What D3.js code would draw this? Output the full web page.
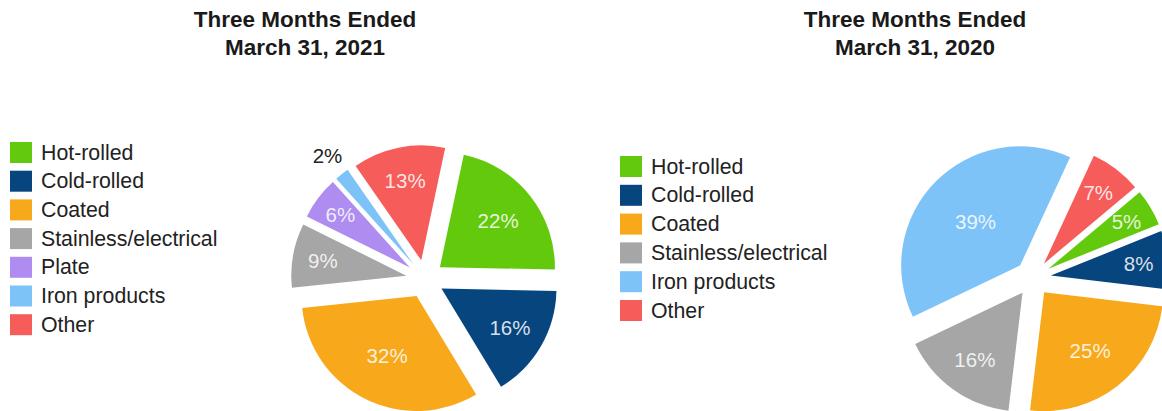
<!DOCTYPE html>
<html>
<head>
<meta charset="utf-8">
<script src="https://cdn.jsdelivr.net/npm/d3@7"></script>
<style>
  html, body { margin: 0; padding: 0; background: #fff; }
  svg { display: block; font-family: "Liberation Sans", Arial, sans-serif; }
</style>
</head>
<body>
<svg id="chart" width="1162" height="411"></svg>
<script>
// ---- Data ----
const titles2021 = ["Three Months Ended", "March 31, 2021"];
const titles2020 = ["Three Months Ended", "March 31, 2020"];
const categories2021 = ["Hot-rolled", "Cold-rolled", "Coated", "Stainless/electrical", "Plate", "Iron products", "Other"];
const values2021 = [22, 16, 32, 9, 6, 2, 13];
const categories2020 = ["Hot-rolled", "Cold-rolled", "Coated", "Stainless/electrical", "Iron products", "Other"];
const values2020 = [5, 8, 25, 16, 39, 7];
const allCategories = ["Hot-rolled", "Cold-rolled", "Coated", "Stainless/electrical", "Plate", "Iron products", "Other"];
const palette = ["#63c90c", "#07457f", "#f7a81b", "#a6a6a6", "#ae8cf0", "#7dc3f7", "#f55c5a"];

const color = d3.scaleOrdinal().domain(allCategories).range(palette);
const svg = d3.select("#chart");

function drawPie(cfg) {
  const { cats, vals, titles, cx, cy, r, offset, startDeg, titleX, legendX, legendY, legendStep } = cfg;
  const total = d3.sum(vals);

  // Title
  const t = svg.append("text")
    .attr("x", titleX).attr("text-anchor", "middle")
    .attr("font-weight", "bold").attr("font-size", 22.5).attr("fill", "#1a1a1a");
  titles.forEach((line, i) => {
    t.append("tspan").attr("x", titleX).attr("y", 27 + i * 28).text(line);
  });

  // Legend
  const lg = svg.append("g").attr("transform", `translate(${legendX},${legendY})`);
  const item = lg.selectAll("g").data(cats).join("g")
    .attr("transform", (d, i) => `translate(0,${i * legendStep})`);
  item.append("rect").attr("x", 0).attr("y", -10).attr("width", 22).attr("height", 21)
    .attr("fill", d => color(d));
  item.append("text").attr("x", 31).attr("y", 0).attr("dy", "0.36em")
    .attr("font-size", 21.3).attr("fill", "#222").text(d => d);

  // Pie
  const start = startDeg * Math.PI / 180;
  const pie = d3.pie().sort(null).value(d => d.v)
    .startAngle(start).endAngle(start + 2 * Math.PI);
  const arcs = pie(cats.map((c, i) => ({ c, v: vals[i] })));
  const arc = d3.arc().innerRadius(0).outerRadius(r);
  const g = svg.append("g").attr("transform", `translate(${cx},${cy})`);

  const slice = g.selectAll("g.slice").data(arcs).join("g").attr("class", "slice")
    .attr("transform", d => {
      const m = (d.startAngle + d.endAngle) / 2;
      return `translate(${offset * Math.sin(m)},${-offset * Math.cos(m)})`;
    });
  slice.append("path").attr("d", arc).attr("fill", d => color(d.data.c));

  slice.append("text")
    .attr("transform", d => {
      const p = d.data.v / total;
      const f = p < 0.03 ? 1.2 : 0.8 - 0.7 * p;
      const la = d3.arc().innerRadius(r * f).outerRadius(r * f);
      const [x, y] = la.centroid(d);
      return `translate(${x},${y})`;
    })
    .attr("text-anchor", "middle").attr("dy", "0.36em")
    .attr("font-size", 20.5)
    .attr("fill", d => (d.data.v / total < 0.03 ? "#222" : "#ffffff"))
    .attr("fill-opacity", d => (d.data.v / total < 0.03 ? 1 : 0.85))
    .text(d => d.data.v + "%");
}

drawPie({
  cats: categories2021, vals: values2021, titles: titles2021,
  cx: 425, cy: 279, r: 115, offset: 19, startDeg: 12,
  titleX: 305, legendX: 10, legendY: 152, legendStep: 28.7
});

drawPie({
  cats: categories2020, vals: values2020, titles: titles2020,
  cx: 1033, cy: 278, r: 119, offset: 18, startDeg: 50,
  titleX: 915, legendX: 620, legendY: 166, legendStep: 28.8
});
</script>
</body>
</html>
